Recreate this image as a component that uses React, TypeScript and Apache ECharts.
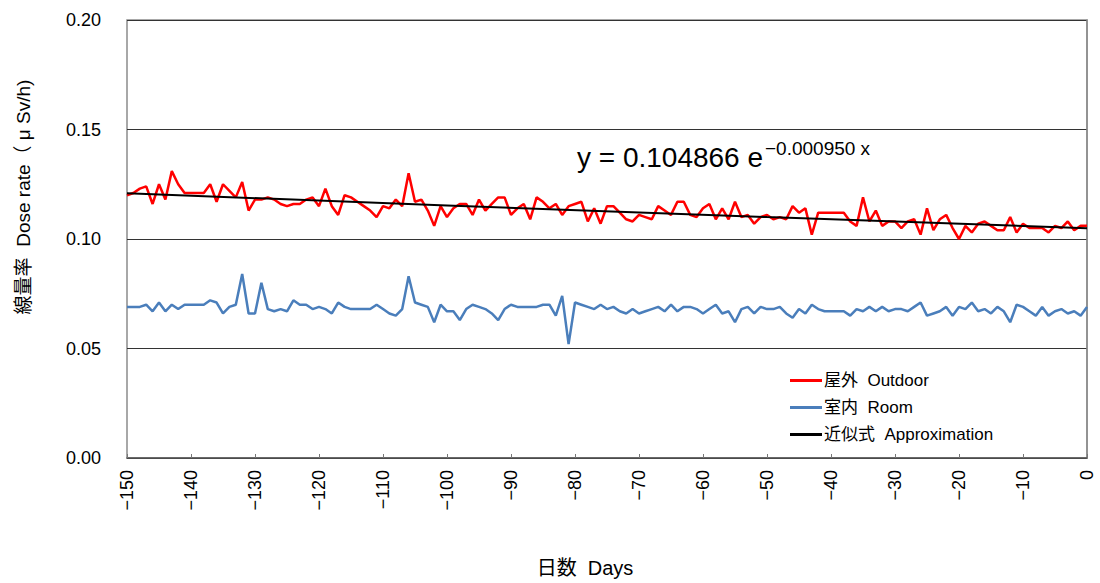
import React, { useEffect, useRef } from "react";
import * as echarts from "echarts";

// Days run from -150 to 0, one value per day
const START_DAY = -150;

// 屋外 Outdoor (μSv/h), days -150 .. 0
const outdoor = [
  0.120, 0.121, 0.123, 0.124, 0.116, 0.125, 0.118, 0.131, 0.125, 0.121, 0.121, 0.121, 0.121,
  0.125, 0.117, 0.125, 0.122, 0.119, 0.126, 0.113, 0.118, 0.118, 0.119, 0.118, 0.116, 0.115,
  0.116, 0.116, 0.118, 0.119, 0.115, 0.123, 0.115, 0.111, 0.120, 0.119, 0.117, 0.115, 0.113,
  0.110, 0.115, 0.114, 0.118, 0.115, 0.130, 0.117, 0.118, 0.113, 0.106, 0.115, 0.110,
  0.114, 0.116, 0.116, 0.111, 0.118, 0.113, 0.116, 0.119, 0.119, 0.111, 0.114, 0.116, 0.109,
  0.119, 0.117, 0.114, 0.116, 0.111, 0.115, 0.116, 0.117, 0.108, 0.114, 0.107, 0.115,
  0.115, 0.112, 0.109, 0.108, 0.111, 0.110, 0.109, 0.115, 0.113, 0.111, 0.117, 0.117, 0.111,
  0.110, 0.114, 0.116, 0.109, 0.114, 0.109, 0.117, 0.110, 0.111, 0.107, 0.110, 0.111,
  0.109, 0.110, 0.109, 0.115, 0.112, 0.114, 0.102, 0.112, 0.112, 0.112, 0.112, 0.112, 0.108,
  0.106, 0.119, 0.108, 0.113, 0.106, 0.108, 0.108, 0.105, 0.108, 0.109, 0.102, 0.114,
  0.104, 0.109, 0.111, 0.105, 0.100, 0.106, 0.103, 0.107, 0.108, 0.106, 0.104, 0.104, 0.110,
  0.103, 0.107, 0.105, 0.105, 0.105, 0.103, 0.106, 0.105, 0.108, 0.104, 0.106, 0.106,
];

// 室内 Room (μSv/h), days -150 .. 0
const room = [
  0.069, 0.069, 0.069, 0.070, 0.067, 0.071, 0.067, 0.070, 0.068, 0.070, 0.070, 0.070, 0.070,
  0.072, 0.071, 0.066, 0.069, 0.070, 0.084, 0.066, 0.066, 0.080, 0.068, 0.067, 0.068, 0.067,
  0.072, 0.070, 0.070, 0.068, 0.069, 0.068, 0.066, 0.071, 0.069, 0.068, 0.068, 0.068, 0.068,
  0.070, 0.068, 0.066, 0.065, 0.068, 0.083, 0.071, 0.070, 0.069, 0.062, 0.070, 0.067,
  0.067, 0.063, 0.068, 0.070, 0.069, 0.068, 0.066, 0.063, 0.068, 0.070, 0.069, 0.069, 0.069,
  0.069, 0.070, 0.070, 0.065, 0.074, 0.052, 0.071, 0.070, 0.069, 0.068, 0.070, 0.068,
  0.069, 0.067, 0.066, 0.068, 0.066, 0.067, 0.068, 0.069, 0.067, 0.070, 0.067, 0.069, 0.069,
  0.068, 0.066, 0.068, 0.070, 0.066, 0.067, 0.062, 0.068, 0.069, 0.066, 0.069, 0.068,
  0.068, 0.069, 0.066, 0.064, 0.068, 0.066, 0.070, 0.068, 0.067, 0.067, 0.067, 0.067, 0.065,
  0.068, 0.067, 0.069, 0.067, 0.069, 0.067, 0.068, 0.068, 0.067, 0.069, 0.071, 0.065,
  0.066, 0.067, 0.069, 0.065, 0.069, 0.068, 0.071, 0.067, 0.068, 0.066, 0.069, 0.067, 0.062,
  0.070, 0.069, 0.067, 0.065, 0.069, 0.065, 0.067, 0.068, 0.066, 0.067, 0.065, 0.069,
];

// 近似式 Approximation
const approxDays = [-150, -100, -50, 0];
const approxValues = [0.1209, 0.1153, 0.11, 0.1049];

const SERIES_NAMES = ["屋外  Outdoor", "室内  Room", "近似式  Approximation"];
const Y_NAME = "線量率  Dose rate（ μ Sv/h)";
const X_NAME = "日数  Days";
const EQ_MAIN = "y = 0.104866 e";
const EQ_EXP = "−0.000950 x";

const X_MIN = -150;
const X_MAX = 0;
const X_STEP = 10;
const Y_MIN = 0;
const Y_MAX = 0.2;
const Y_STEP = 0.05;

const FONT = "'Liberation Sans', Arial, 'Noto Sans CJK JP', sans-serif";

export default function App() {
  const ref = useRef<HTMLDivElement>(null);

  useEffect(() => {
    document.body.style.margin = "0";
    if (!ref.current) return;
    const chart = echarts.init(ref.current, null, { renderer: "svg" });

    const outdoorData = outdoor.map((v, i) => [START_DAY + i, v]);
    const roomData = room.map((v, i) => [START_DAY + i, v]);
    const approxData = approxDays.map((d, i) => [d, approxValues[i]]);

    chart.setOption({
      animation: false,
      backgroundColor: "#ffffff",
      textStyle: { fontFamily: FONT },
      grid: {
        left: 127,
        right: 13,
        top: 20,
        bottom: 125,
        show: true,
        borderColor: "#8c8c8c",
        borderWidth: 1.5,
        backgroundColor: "transparent",
      },
      legend: {
        orient: "vertical",
        left: 785,
        top: 367,
        itemGap: 10,
        itemWidth: 32,
        itemHeight: 3,
        icon: "rect",
        data: SERIES_NAMES,
        textStyle: { fontSize: 17, color: "#000", fontFamily: FONT, padding: [0, 0, 0, -3] },
      },
      xAxis: {
        type: "value",
        min: X_MIN,
        max: X_MAX,
        interval: X_STEP,
        axisLine: { show: true, onZero: false, lineStyle: { color: "#555", width: 1.5 } },
        axisTick: { show: true, inside: true, length: 4, lineStyle: { color: "#777" } },
        splitLine: { show: false },
        axisLabel: {
          rotate: 90,
          margin: 12,
          fontSize: 18,
          color: "#000",
          fontFamily: FONT,
          formatter: (v: number) => (v < 0 ? "−" + Math.abs(v) : String(v)),
        },
      },
      yAxis: {
        type: "value",
        min: Y_MIN,
        max: Y_MAX,
        interval: Y_STEP,
        axisLine: { show: true, lineStyle: { color: "#8c8c8c", width: 1.5 } },
        axisTick: { show: false },
        splitLine: { show: true, lineStyle: { color: "#333", width: 1 } },
        axisLabel: {
          margin: 26,
          fontSize: 18,
          color: "#000",
          fontFamily: FONT,
          formatter: (v: number) => v.toFixed(2),
        },
      },
      series: [
        {
          name: SERIES_NAMES[0],
          type: "line",
          data: outdoorData,
          showSymbol: false,
          symbol: "none",
          itemStyle: { color: "#ff0000" },
          lineStyle: { color: "#ff0000", width: 2.5 },
          z: 3,
        },
        {
          name: SERIES_NAMES[1],
          type: "line",
          data: roomData,
          showSymbol: false,
          symbol: "none",
          itemStyle: { color: "#4a7ebb" },
          lineStyle: { color: "#4a7ebb", width: 2.5 },
          z: 3,
        },
        {
          name: SERIES_NAMES[2],
          type: "line",
          data: approxData,
          showSymbol: false,
          symbol: "none",
          itemStyle: { color: "#000" },
          lineStyle: { color: "#000", width: 2 },
          z: 4,
        },
      ],
      graphic: [
        {
          type: "text",
          x: 23,
          y: 197,
          rotation: Math.PI / 2,
          style: {
            text: Y_NAME,
            fontSize: 19,
            fill: "#000",
            fontFamily: FONT,
            align: "center",
            verticalAlign: "middle",
          },
        },
        {
          type: "text",
          x: 585,
          y: 568,
          style: {
            text: X_NAME,
            fontSize: 20,
            fill: "#000",
            fontFamily: FONT,
            align: "center",
            verticalAlign: "middle",
          },
        },
        {
          type: "text",
          x: 577,
          y: 157,
          style: {
            text: EQ_MAIN,
            fontSize: 28,
            fill: "#000",
            fontFamily: FONT,
            align: "left",
            verticalAlign: "middle",
          },
        },
        {
          type: "text",
          x: 765,
          y: 148,
          style: {
            text: EQ_EXP,
            fontSize: 19,
            fill: "#000",
            fontFamily: FONT,
            align: "left",
            verticalAlign: "middle",
          },
        },
      ],
    });

    return () => chart.dispose();
  }, []);

  return <div ref={ref} style={{ width: 1100, height: 583 }} />;
}
